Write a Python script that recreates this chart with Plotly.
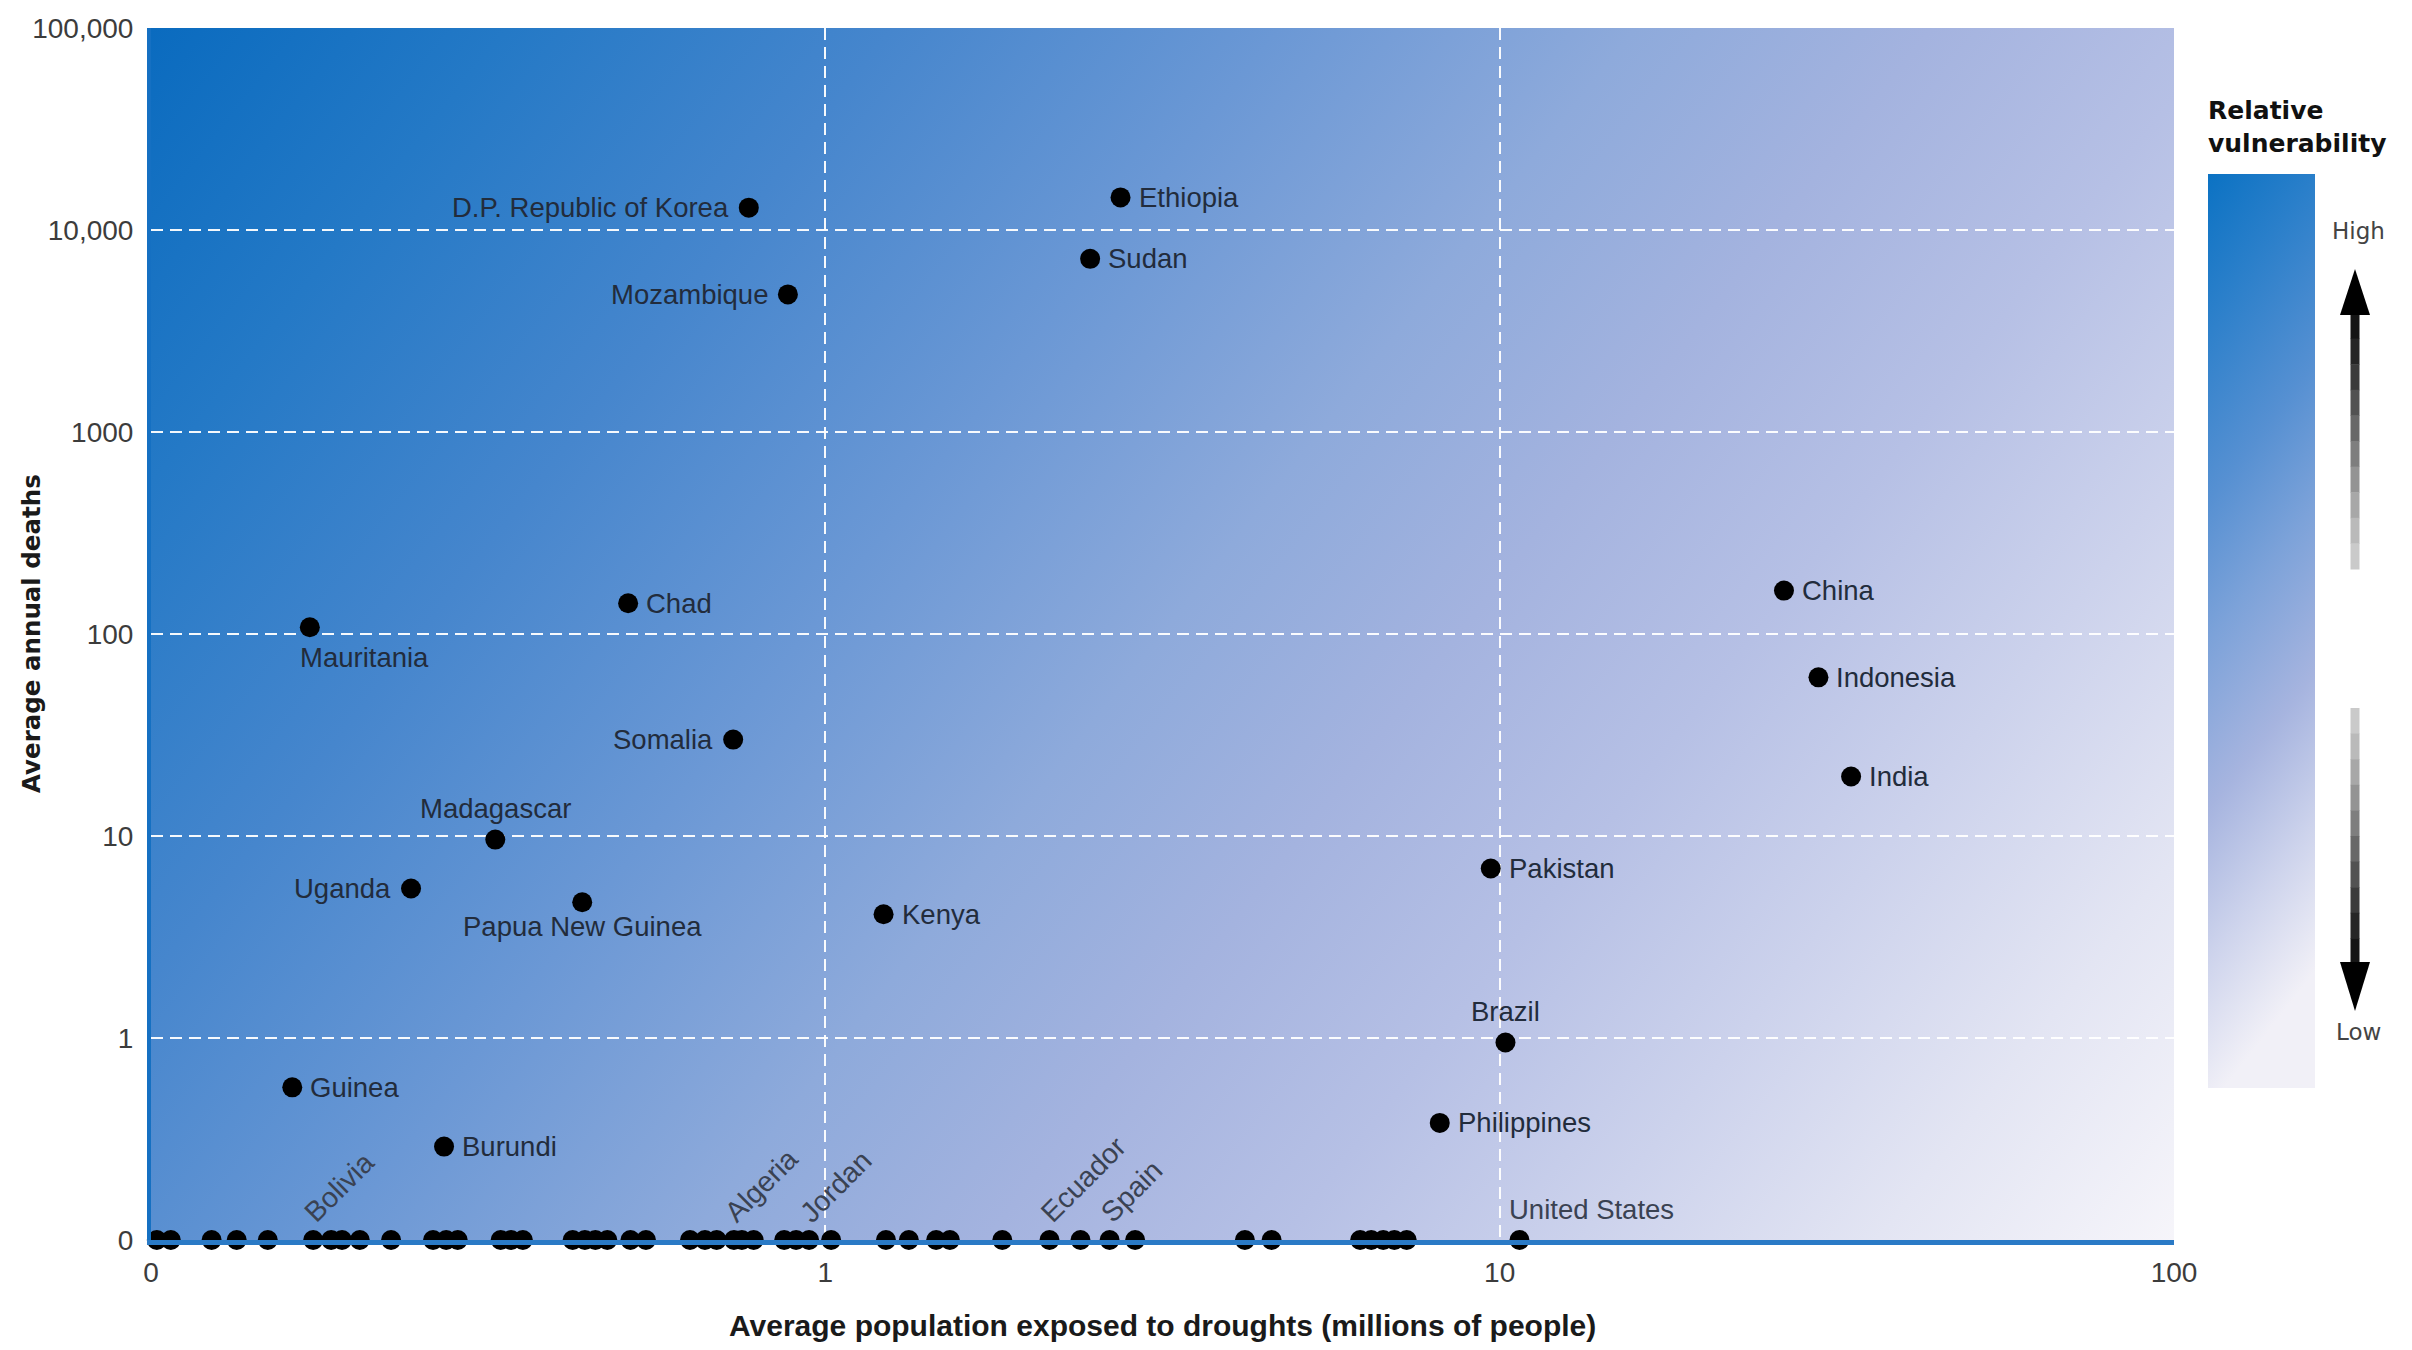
import base64
import math
import plotly.graph_objects as go

# ------------------------------------------------------------------ data
# Countries with a label and non-zero average annual deaths
labeled_countries = ["D.P. Republic of Korea", "Ethiopia", "Sudan", "Mozambique", "Chad",
                     "Mauritania", "Somalia", "Madagascar", "Uganda", "Papua New Guinea",
                     "Kenya", "Guinea", "Burundi", "China", "Indonesia", "India",
                     "Pakistan", "Brazil", "Philippines"]
labeled_exposed = [0.77, 2.74, 2.47, 0.88, 0.51,
                   0.172, 0.73, 0.324, 0.243, 0.436,
                   1.22, 0.162, 0.272, 26.4, 29.7, 33.2,
                   9.7, 10.2, 8.15]                      # millions of people
labeled_deaths = [12900, 14500, 7200, 4800, 142,
                  108, 30, 9.6, 5.5, 4.7,
                  4.1, 0.57, 0.29, 164, 61, 19.7,
                  6.9, 0.95, 0.38]                       # average annual deaths
label_side = ["left", "right", "right", "left", "right",
              "below_left", "left", "above", "left", "below",
              "right", "right", "right", "right", "right", "right",
              "right", "above", "right"]

# Countries with zero average annual deaths (drawn on the "0" line)
zero_labeled_countries = ["Bolivia", "Algeria", "Jordan", "Ecuador", "Spain"]
zero_labeled_exposed = [0.174, 0.732, 0.946, 2.15, 2.64]
us_country = ["United States"]
us_exposed = [10.7]
zero_unlabeled_exposed = [0.102, 0.107, 0.123, 0.134, 0.149, 0.185, 0.192, 0.204, 0.227,
                          0.262, 0.274, 0.285, 0.330, 0.342, 0.356, 0.422, 0.440, 0.456,
                          0.475, 0.514, 0.542, 0.630, 0.663, 0.690, 0.752, 0.783, 0.869,
                          0.905, 1.02, 1.23, 1.33, 1.46, 1.53, 1.83, 2.39, 2.88,
                          4.19, 4.59, 6.21, 6.45, 6.72, 6.98, 7.28]

x_tickvals = [0.1, 1, 10, 100]
x_ticktext = ["0", "1", "10", "100"]
y_tickvals = [0.1, 1, 10, 100, 1000, 10000, 100000]
y_ticktext = ["0", "1", "10", "100", "1000", "10,000", "100,000"]
ZERO_POS = 0.1   # the value at which the axis label "0" sits on the log scales

# ------------------------------------------------------------------ layout geometry
# page coordinates (the page body has an 8 px margin)
PAGE_OFF = 8
FIG_W, FIG_H = 2396, 1334
L, R, T, B = 151, 2174, 28, 1240


def pxx(px):
    return (px - L) / (R - L)


def pxy(py):
    return (B - py) / (B - T)


def svg_uri(svg):
    return "data:image/svg+xml;base64," + base64.b64encode(svg.encode("utf-8")).decode("ascii")


pw, ph = R - L, B - T
bg_stops = [(0.00, "#0a6bbf"), (0.12, "#2479c6"), (0.25, "#4686cd"), (0.38, "#6b98d5"),
            (0.50, "#8eaadb"), (0.60, "#a4b3df"), (0.70, "#b6c0e5"), (0.80, "#ccd2ec"),
            (0.90, "#e3e5f3"), (1.00, "#f6f5fa")]
ang = math.radians(52)
gx, gy = math.sin(ang), math.cos(ang)
glen = pw * gx + ph * gy
bg_svg = (
    f'<svg xmlns="http://www.w3.org/2000/svg" width="{pw}" height="{ph}" viewBox="0 0 {pw} {ph}" '
    f'preserveAspectRatio="none"><defs><linearGradient id="g" gradientUnits="userSpaceOnUse" '
    f'x1="0" y1="0" x2="{gx * glen:.1f}" y2="{gy * glen:.1f}">'
    + "".join(f'<stop offset="{o}" stop-color="{c}"/>' for o, c in bg_stops)
    + f'</linearGradient></defs><rect width="{pw}" height="{ph}" fill="url(#g)"/></svg>'
)

cb_stops = [(0.00, "#0b72c3"), (0.15, "#2a7fca"), (0.35, "#5690d2"), (0.50, "#7ca2d9"),
            (0.68, "#a6b4df"), (0.84, "#cdd3ec"), (1.00, "#f1f0f7")]
cb_svg = (
    '<svg xmlns="http://www.w3.org/2000/svg" width="108" height="914" viewBox="0 0 108 914" '
    'preserveAspectRatio="none"><defs><linearGradient id="c" x1="0" y1="0" x2="0.15" y2="1">'
    + "".join(f'<stop offset="{o}" stop-color="{c}"/>' for o, c in cb_stops)
    + '</linearGradient></defs><rect width="108" height="914" fill="url(#c)"/></svg>'
)

# ------------------------------------------------------------------ traces
all_x = labeled_exposed + zero_labeled_exposed + us_exposed + zero_unlabeled_exposed
all_y = labeled_deaths + [ZERO_POS] * (len(zero_labeled_exposed) + len(us_exposed) + len(zero_unlabeled_exposed))
all_names = labeled_countries + zero_labeled_countries + us_country + [""] * len(zero_unlabeled_exposed)

fig = go.Figure()
fig.add_trace(go.Scatter(
    x=all_x, y=all_y, mode="markers", text=all_names, hoverinfo="text+x",
    marker=dict(color="#000000", size=20, line=dict(width=0)),
    cliponaxis=False, showlegend=False,
))

# ------------------------------------------------------------------ labels
label_font = dict(family="Liberation Sans, Arial, sans-serif", size=27.5, color="#222c3c")
side_cfg = {
    "right": dict(xanchor="left", yanchor="middle", xshift=16, yshift=0),
    "left": dict(xanchor="right", yanchor="middle", xshift=-18, yshift=0),
    "below_left": dict(xanchor="left", yanchor="middle", xshift=-12, yshift=-30),
    "above": dict(xanchor="center", yanchor="middle", xshift=0, yshift=31),
    "below": dict(xanchor="center", yanchor="middle", xshift=0, yshift=-24),
}
annotations = []
for name, xv, yv, side in zip(labeled_countries, labeled_exposed, labeled_deaths, label_side):
    annotations.append(dict(x=math.log10(xv), y=math.log10(yv), xref="x", yref="y", text=name,
                            showarrow=False, font=label_font, **side_cfg[side]))
for name, xv in zip(zero_labeled_countries, zero_labeled_exposed):
    annotations.append(dict(x=math.log10(xv), y=math.log10(ZERO_POS), xref="x", yref="y", text=name,
                            showarrow=False, textangle=-45, xanchor="left", yanchor="bottom",
                            xshift=-18, yshift=9,
                            font=dict(family="Liberation Sans, Arial, sans-serif", size=28.5, color="#3a4252")))
for name, xv in zip(us_country, us_exposed):
    annotations.append(dict(x=math.log10(xv), y=math.log10(ZERO_POS), xref="x", yref="y", text=name,
                            showarrow=False, xanchor="left", yanchor="middle", xshift=-12, yshift=31,
                            font=dict(family="Liberation Sans, Arial, sans-serif", size=27.5, color="#3a4252")))

# axis titles
annotations.append(dict(x=0.5, y=pxy(1325), xref="paper", yref="paper", showarrow=False,
                        text="<b>Average population exposed to droughts (millions of people)</b>",
                        xanchor="center", yanchor="middle",
                        font=dict(family="Liberation Sans, Arial, sans-serif", size=30, color="#1a1a1a")))
annotations.append(dict(x=pxx(31), y=pxy(634), xref="paper", yref="paper", showarrow=False,
                        text="<b>Average annual deaths</b>", textangle=-90,
                        xanchor="center", yanchor="middle",
                        font=dict(family="DejaVu Sans, sans-serif", size=24.5, color="#1a1a1a")))
# legend texts
annotations.append(dict(x=pxx(2206), y=pxy(127), xref="paper", yref="paper", showarrow=False,
                        text="<b>Relative<br>vulnerability</b>", align="left",
                        xanchor="left", yanchor="middle",
                        font=dict(family="DejaVu Sans, sans-serif", size=25, color="#111111")))
annotations.append(dict(x=pxx(2358), y=pxy(231), xref="paper", yref="paper", showarrow=False,
                        text="High", xanchor="center", yanchor="middle",
                        font=dict(family="DejaVu Sans, sans-serif", size=23, color="#444444")))
annotations.append(dict(x=pxx(2358), y=pxy(1032), xref="paper", yref="paper", showarrow=False,
                        text="Low", xanchor="center", yanchor="middle",
                        font=dict(family="DejaVu Sans, sans-serif", size=23, color="#444444")))

# ------------------------------------------------------------------ legend arrows (decoration)
shapes = []
ax_c, shaft_hw, head_hw = 2355, 4.5, 15
greys = ["#151515", "#262626", "#3b3b3b", "#525252", "#686868",
         "#7e7e7e", "#949494", "#a8a8a8", "#bababa", "#cacaca"]


def shaft(y_top, y_bot, colors):
    n = len(colors)
    step = (y_bot - y_top) / n
    for i, c in enumerate(colors):
        shapes.append(dict(type="rect", xref="paper", yref="paper",
                           x0=pxx(ax_c - shaft_hw), x1=pxx(ax_c + shaft_hw),
                           y0=pxy(y_top + i * step), y1=pxy(y_top + (i + 1) * step + 0.5),
                           fillcolor=c, line=dict(width=0), layer="above"))


def head(y_base, y_tip):
    path = (f"M {pxx(ax_c - head_hw)},{pxy(y_base)} L {pxx(ax_c + head_hw)},{pxy(y_base)} "
            f"L {pxx(ax_c)},{pxy(y_tip)} Z")
    shapes.append(dict(type="path", xref="paper", yref="paper", path=path,
                       fillcolor="#000000", line=dict(width=0), layer="above"))


shaft(313, 569, greys)
head(315, 269)
shaft(708, 964, greys[::-1])
head(962, 1011)

# ------------------------------------------------------------------ layout
tick_font = dict(family="Liberation Sans, Arial, sans-serif", size=28, color="#3c3c3c")
fig.update_layout(
    width=FIG_W, height=FIG_H,
    margin=dict(l=L - PAGE_OFF, r=FIG_W - (R - PAGE_OFF), t=T - PAGE_OFF, b=FIG_H - (B - PAGE_OFF),
                autoexpand=False),
    paper_bgcolor="#ffffff",
    plot_bgcolor="rgba(0,0,0,0)",
    showlegend=False,
    annotations=annotations,
    shapes=shapes,
    images=[
        dict(source=svg_uri(bg_svg), xref="paper", yref="paper", x=0, y=1, sizex=1, sizey=1,
             xanchor="left", yanchor="top", sizing="stretch", layer="below"),
        dict(source=svg_uri(cb_svg), xref="paper", yref="paper", x=pxx(2208), y=pxy(174),
             sizex=pxx(2315) - pxx(2208), sizey=pxy(174) - pxy(1088),
             xanchor="left", yanchor="top", sizing="stretch", layer="above"),
    ],
    xaxis=dict(type="log", range=[-1, 2], tickmode="array", tickvals=x_tickvals, ticktext=x_ticktext,
               showgrid=True, gridcolor="rgba(255,255,255,0.95)", gridwidth=2, griddash="12px,7px",
               showline=True, linecolor="#2a7ac6", linewidth=5, ticks="", zeroline=False,
               tickfont=tick_font, ticklabelstandoff=3, fixedrange=True, automargin=False),
    yaxis=dict(type="log", range=[-1, 5], tickmode="array", tickvals=y_tickvals, ticktext=y_ticktext,
               showgrid=True, gridcolor="rgba(255,255,255,0.95)", gridwidth=2, griddash="12px,7px",
               showline=True, linecolor="#1570c2", linewidth=4, ticks="", zeroline=False,
               tickfont=tick_font, ticklabelstandoff=8, fixedrange=True, automargin=False),
)

fig.write_html("out.html")
